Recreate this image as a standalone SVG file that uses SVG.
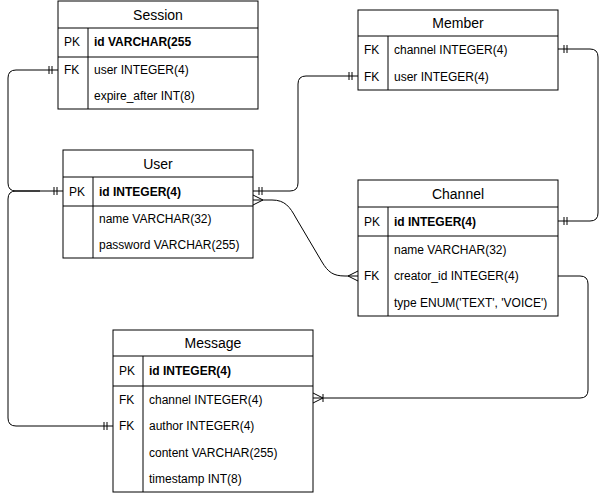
<svg xmlns="http://www.w3.org/2000/svg" width="609" height="496" viewBox="0 0 609 496">
<style>
.box{fill:#fff;stroke:#000;stroke-width:1}
.ln{stroke:#000;stroke-width:1;fill:none}
.t{font-family:"Liberation Sans",Arial,Helvetica,sans-serif;font-size:14px;fill:#000;text-anchor:middle}
.r{font-family:"Liberation Sans",Arial,Helvetica,sans-serif;font-size:12px;fill:#000}
.b{font-weight:bold}
.c{fill:none;stroke:#000;stroke-width:1}
</style>
<defs>
<marker id="one" viewBox="-12 -6 14 12" refX="0" refY="0" markerWidth="14" markerHeight="12" markerUnits="userSpaceOnUse" orient="auto-start-reverse" overflow="visible">
<path d="M-6,-4V4M-9,-4V4" stroke="#000" fill="none"/>
</marker>
<marker id="many" viewBox="-12 -6 14 12" refX="0" refY="0" markerWidth="14" markerHeight="12" markerUnits="userSpaceOnUse" orient="auto-start-reverse" overflow="visible">
<path d="M-10,0L0,-5M-10,0L0,5" stroke="#000" fill="none"/>
</marker>
<marker id="oneMany" viewBox="-12 -6 14 12" refX="0" refY="0" markerWidth="14" markerHeight="12" markerUnits="userSpaceOnUse" orient="auto-start-reverse" overflow="visible">
<path d="M-10,0L0,-5M-10,0L0,5M-10,-4V4" stroke="#000" fill="none"/>
</marker>
</defs>
<rect width="609" height="496" fill="#fff"/>

<g id="connectors">
<path class="c" d="M58,70 L16,70 Q8,70 8,78 L8,183 Q8,191 16,191 L63,191" marker-start="url(#one)" marker-end="url(#one)"/>
<path class="c" d="M113,426 L16,426 Q8,426 8,418 L8,199 Q8,191 16,191 L40,191" marker-start="url(#one)"/>
<path class="c" d="M253,191 L290,191 Q298,191 298,183 L298,84 Q298,76 306,76 L358,76" marker-start="url(#one)" marker-end="url(#one)"/>
<path class="c" d="M558,49 L590,49 Q598,49 598,57 L598,213 Q598,221 590,221 L558,221" marker-start="url(#one)" marker-end="url(#one)"/>
<path class="c" d="M253,200 L272,200 C285,200 290,207 296,218 L322,262 C328,272 333,276 345,276 L358,276" marker-start="url(#many)" marker-end="url(#many)"/>
<path class="c" d="M558,276 L580,276 Q588,276 588,284 L588,390 Q588,398 580,398 L313,398" marker-end="url(#oneMany)"/>
</g>

<g id="session">
<rect class="box" x="58" y="1" width="200" height="108"/>
<path class="ln" d="M58,28H258M58,57H258M88,28V109"/>
<text class="t" x="158" y="19.5">Session</text>
<text class="r" x="64" y="46">PK</text>
<text class="r b" x="94" y="46">id VARCHAR(255</text>
<text class="r" x="64" y="74">FK</text>
<text class="r" x="94" y="74">user INTEGER(4)</text>
<text class="r" x="94" y="100">expire_after INT(8)</text>
</g>

<g id="member">
<rect class="box" x="358" y="10" width="200" height="80"/>
<path class="ln" d="M358,36H558M388,36V90"/>
<text class="t" x="458" y="28">Member</text>
<text class="r" x="364" y="53.5">FK</text>
<text class="r" x="394" y="53.5">channel INTEGER(4)</text>
<text class="r" x="364" y="80.5">FK</text>
<text class="r" x="394" y="80.5">user INTEGER(4)</text>
</g>

<g id="user">
<rect class="box" x="63" y="150" width="190" height="108"/>
<path class="ln" d="M63,177H253M63,206H253M93,177V258"/>
<text class="t" x="158" y="168.5">User</text>
<text class="r" x="69" y="195.5">PK</text>
<text class="r b" x="99" y="195.5">id INTEGER(4)</text>
<text class="r" x="99" y="223">name VARCHAR(32)</text>
<text class="r" x="99" y="249">password VARCHAR(255)</text>
</g>

<g id="channel">
<rect class="box" x="358" y="180" width="200" height="136"/>
<path class="ln" d="M358,207H558M358,236H558M388,207V316"/>
<text class="t" x="458" y="198.5">Channel</text>
<text class="r" x="364" y="225.5">PK</text>
<text class="r b" x="394" y="225.5">id INTEGER(4)</text>
<text class="r" x="394" y="254">name VARCHAR(32)</text>
<text class="r" x="364" y="280">FK</text>
<text class="r" x="394" y="280">creator_id INTEGER(4)</text>
<text class="r" x="394" y="307">type ENUM('TEXT', 'VOICE')</text>
</g>

<g id="message">
<rect class="box" x="113" y="330" width="200" height="162"/>
<path class="ln" d="M113,356H313M113,386H313M143,356V492"/>
<text class="t" x="213" y="348">Message</text>
<text class="r" x="119" y="375">PK</text>
<text class="r b" x="149" y="375">id INTEGER(4)</text>
<text class="r" x="119" y="404">FK</text>
<text class="r" x="149" y="404">channel INTEGER(4)</text>
<text class="r" x="119" y="430">FK</text>
<text class="r" x="149" y="430">author INTEGER(4)</text>
<text class="r" x="149" y="457">content VARCHAR(255)</text>
<text class="r" x="149" y="483">timestamp INT(8)</text>
</g>
</svg>
